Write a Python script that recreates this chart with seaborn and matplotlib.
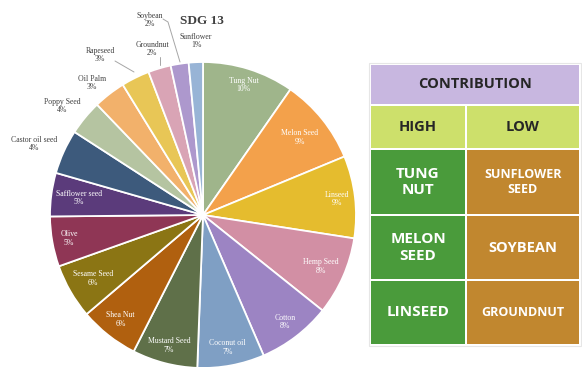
import numpy as np
import matplotlib
matplotlib.use("Agg")
import matplotlib.pyplot as plt
from matplotlib.patches import Rectangle
import seaborn as sns

# ---------------- data ----------------
crops = ["Tung Nut", "Melon Seed", "Linseed", "Hemp Seed", "Cotton", "Coconut oil",
         "Mustard Seed", "Shea Nut", "Sesame Seed", "Olive", "Safflower seed",
         "Castor oil seed", "Poppy Seed", "Oil Palm", "Rapeseed", "Groundnut",
         "Soybean", "Sunflower"]
shares = [9.7, 9.1, 8.7, 8.3, 7.8, 7.1, 6.9, 6.3, 5.8, 5.3, 4.6, 4.7, 3.7, 3.4, 3.0, 2.4, 1.9, 1.5]
pct_labels = ["10%", "9%", "9%", "8%", "8%", "7%", "7%", "6%", "6%", "5%", "5%",
              "4%", "4%", "3%", "3%", "2%", "2%", "1%"]
colors = ["#9fb58b", "#f3a14b", "#e5bc2e", "#d28fa4", "#9c84c3", "#7f9fc4",
          "#5f7049", "#b0600f", "#8b7514", "#8f3655", "#5b3b7b", "#3d5a7c",
          "#b5c4a1", "#f2b16b", "#e8c656", "#d9a4b5", "#ad98cd", "#98b4d6"]
title = "SDG 13"

table_header = "CONTRIBUTION"
table_cols = ["HIGH", "LOW"]
high_items = ["TUNG\nNUT", "MELON\nSEED", "LINSEED"]
low_items = ["SUNFLOWER\nSEED", "SOYBEAN", "GROUNDNUT"]

# ---------------- figure ----------------
sns.set_theme(style="white")
W, H = 582, 367
fig = plt.figure(figsize=(W / 100, H / 100), dpi=100)
ax = fig.add_axes([0, 0, 1, 1])

serif = ["Liberation Serif", "DejaVu Serif"]
sans = ["Open Sans", "DejaVu Sans"]

cx, cy, R = 203, H - 215, 153
wedges, _ = ax.pie(shares, colors=sns.color_palette(colors), startangle=90, counterclock=False,
                   center=(cx, cy), radius=R, frame=True,
                   wedgeprops=dict(edgecolor="white", linewidth=1.3))
ax.set_xlim(0, W)
ax.set_ylim(0, H)
ax.set_aspect("equal")
ax.axis("off")

# radial placement of inside labels (fraction of radius, layout only)
label_r = [0.89, 0.81, 0.88, 0.84, 0.88, 0.88, 0.88, 0.87, 0.83, 0.89, 0.82]
for i, w in enumerate(wedges[:len(label_r)]):
    mid = np.deg2rad((w.theta1 + w.theta2) / 2)
    r = label_r[i] * R
    x, y = cx + r * np.cos(mid), cy + r * np.sin(mid)
    ax.text(x, y, f"{crops[i]}\n{pct_labels[i]}", ha="center", va="center",
            color="white", fontsize=5.6, family=serif, linespacing=1.1)

# outside labels (pixel positions of label centres, layout only)
outside_pos = {11: (34, 144), 12: (62, 106), 13: (92, 83), 14: (100, 55),
               15: (152, 49), 16: (150, 20), 17: (196, 41)}
leaders = {14: [(115, 61), (134, 72)], 15: [(160, 57), (160, 65)],
           16: [(163, 19), (168, 22), (180, 62)]}
for i, (px, py) in outside_pos.items():
    ax.text(px, H - py, f"{crops[i]}\n{pct_labels[i]}", ha="center", va="center",
            color="#404040", fontsize=5.6, family=serif, linespacing=1.1)
for i, pts in leaders.items():
    xs = [p[0] for p in pts]
    ys = [H - p[1] for p in pts]
    ax.plot(xs, ys, color="#a6a6a6", lw=0.7)

ax.text(202, H - 21, title, ha="center", va="center", fontsize=9.5,
        fontweight="bold", family=serif, color="#404040")

# ---------------- table ----------------
x0, x1, xm = 370, 580, 466
rows = [64, 105, 149, 215, 280, 345]
gap = 1.0

def cell(xa, xb, ya, yb, fc):
    ax.add_patch(Rectangle((xa + gap, H - yb + gap), xb - xa - 2 * gap, yb - ya - 2 * gap,
                           facecolor=fc, edgecolor="none", zorder=3))

ax.add_patch(Rectangle((x0 - 1, H - rows[-1] - 1), x1 - x0 + 2, rows[-1] - rows[0] + 2,
                       facecolor="white", edgecolor="#e6e6e6", lw=0.8, zorder=2))
cell(x0, x1, rows[0], rows[1], "#c8b7e0")
ax.text((x0 + x1) / 2, H - (rows[0] + rows[1]) / 2, table_header, ha="center", va="center",
        fontsize=10.5, fontweight="bold", family=sans, color="#262626", zorder=4)
for j, lab in enumerate(table_cols):
    xa, xb = (x0, xm) if j == 0 else (xm, x1)
    cell(xa, xb, rows[1], rows[2], "#cde06b")
    ax.text((xa + xb) / 2, H - (rows[1] + rows[2]) / 2, lab, ha="center", va="center",
            fontsize=10.5, fontweight="bold", family=sans, color="#262626", zorder=4)
for k in range(3):
    ya, yb = rows[2 + k], rows[3 + k]
    cell(x0, xm, ya, yb, "#4a9b3b")
    cell(xm, x1, ya, yb, "#c1872f")
    ax.text((x0 + xm) / 2, H - (ya + yb) / 2, high_items[k], ha="center", va="center",
            fontsize=11, fontweight="bold", family=sans, color="white", zorder=4,
            linespacing=1.25)
    ax.text((xm + x1) / 2, H - (ya + yb) / 2, low_items[k], ha="center", va="center",
            fontsize=9 if k != 1 else 10.5, fontweight="bold", family=sans, color="white",
            zorder=4, linespacing=1.25)

fig.savefig("out.png", dpi=100, facecolor="white")
